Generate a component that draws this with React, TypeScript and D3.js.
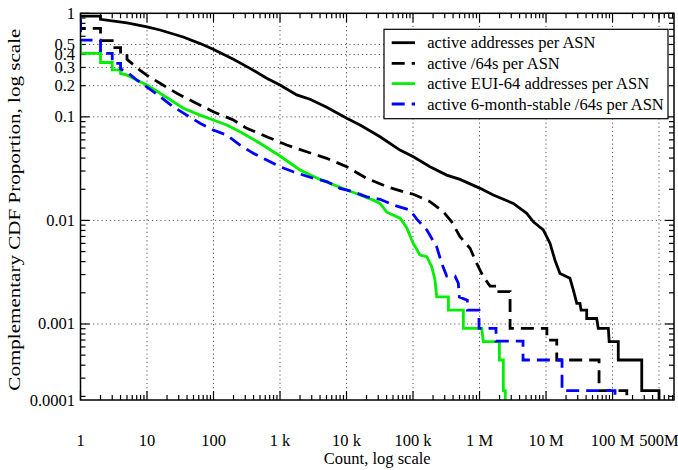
import React from "react";
import * as d3 from "d3";

const W = 678;
const H = 470;

// Axis ticks
const xTickValues = [1, 10, 100, 1e3, 1e4, 1e5, 1e6, 1e7, 1e8, 5e8];
const xTickLabels = ["1", "10", "100", "1 k", "10 k", "100 k", "1 M", "10 M", "100 M", "500M"];
const xGridValues = [10, 100, 1e3, 1e4, 1e5, 1e6, 1e7, 1e8, 5e8];
const yTickValues = [1, 0.5, 0.4, 0.3, 0.2, 0.1, 0.01, 0.001];
const yTickLabels = ["1", "0.5", "0.4", "0.3", "0.2", "0.1", "0.01", "0.001"];
const yGridValues = [0.5, 0.4, 0.3, 0.2, 0.1, 0.01, 0.001];
const yFloorLabel = "0.0001";
const xDomain = [1, 8.4e8];
const yDomain = [1.845e-4, 1];

const xTitle = "Count, log scale";
const yTitle = "Complementary CDF Proportion, log scale";

const seriesNames = [
  "active addresses per ASN",
  "active /64s per ASN",
  "active EUI-64 addresses per ASN",
  "active 6-month-stable /64s per ASN",
];

// [count, complementary CDF proportion]
const activeAddresses: [number, number][] = [
  [1, 0.94], [2, 0.94], [2, 0.875], [5, 0.81], [10, 0.74], [15.7, 0.69], [35, 0.59],
  [63, 0.51], [99, 0.45], [199, 0.36], [354, 0.294], [631, 0.236], [1000, 0.203],
  [1783, 0.163], [2826, 0.148], [5040, 0.124], [10070, 0.0968], [15960, 0.0834],
  [25290, 0.0703], [31900, 0.0643], [63700, 0.0478], [101000, 0.0412], [180000, 0.033],
  [321000, 0.0274], [509000, 0.0249], [1.02e6, 0.0204], [1.61e6, 0.0176], [3.22e6, 0.0146],
  [5.13e6, 0.0117], [6.44e6, 0.0097], [9.1e6, 0.0081], [1.15e7, 0.006], [1.36e7, 0.00415],
  [1.62e7, 0.00308], [2.29e7, 0.00276], [2.57e7, 0.00213], [2.9e7, 0.00158],
  [3.24e7, 0.00158], [3.37e7, 0.00136], [4.09e7, 0.00136], [4.09e7, 0.00113],
  [5.78e7, 0.00113], [6.1e7, 0.000908], [8.65e7, 0.000908], [8.9e7, 0.000675],
  [1.22e8, 0.000675], [1.22e8, 0.000449], [2.75e8, 0.000449], [2.75e8, 0.000227],
  [5.0e8, 0.000227], [5.0e8, 0.0001],
];

const active64s: [number, number][] = [
  [1, 0.85], [1, 0.716], [2, 0.716], [2, 0.544], [3, 0.544], [3, 0.466], [4, 0.466],
  [4, 0.405], [5, 0.405], [5, 0.36], [7.8, 0.283], [9.9, 0.253], [15.7, 0.211],
  [28, 0.169], [49.7, 0.14], [99, 0.112], [199, 0.0933], [316, 0.0775], [631, 0.0643],
  [1260, 0.0535], [2518, 0.046], [5040, 0.0398], [10070, 0.033], [20100, 0.0255],
  [40300, 0.0212], [80400, 0.0185], [101000, 0.0179], [180000, 0.0152], [286000, 0.0121],
  [382000, 0.0097], [509000, 0.00696], [720000, 0.00538], [908000, 0.00385],
  [1.14e6, 0.00286], [1.44e6, 0.00232], [1.85e6, 0.00232], [1.85e6, 0.00205],
  [2.88e6, 0.00205], [2.88e6, 0.000908], [1.03e7, 0.000908], [1.03e7, 0.0007],
  [1.45e7, 0.0007], [1.45e7, 0.000449], [6.27e7, 0.000449], [6.27e7, 0.000227],
  [1.64e8, 0.000227], [1.64e8, 0.0001],
];

const eui64: [number, number][] = [
  [1, 0.53], [1, 0.41], [2, 0.41], [2, 0.335], [3, 0.335], [3, 0.284], [4, 0.284],
  [4, 0.262], [4.95, 0.254], [7.0, 0.227], [9.9, 0.203], [15.7, 0.169], [24.9, 0.14],
  [35.2, 0.121], [62.7, 0.104], [99, 0.0933], [158, 0.0834], [250, 0.0719], [500, 0.0556],
  [1000, 0.0419], [2000, 0.0307], [4000, 0.0249], [7980, 0.0209], [15960, 0.0176],
  [25290, 0.0157], [31900, 0.0146], [40300, 0.012], [63800, 0.0105], [80400, 0.0085],
  [95500, 0.0065], [101000, 0.006], [127000, 0.00463], [161000, 0.00446],
  [191000, 0.00357], [214000, 0.00266], [227000, 0.00183], [340000, 0.00183],
  [340000, 0.00136], [571000, 0.00136], [571000, 0.000908], [1.08e6, 0.000908],
  [1.14e6, 0.000675], [1.99e6, 0.000675], [1.99e6, 0.000449], [2.28e6, 0.000449],
  [2.28e6, 0.000227], [2.44e6, 0.000227], [2.44e6, 0.0001],
];

const stable64s: [number, number][] = [
  [1, 0.88], [1, 0.552], [2, 0.552], [2, 0.411], [3, 0.411], [3, 0.329], [4, 0.329],
  [4, 0.29], [4.95, 0.273], [7.0, 0.227], [9.9, 0.195], [15.7, 0.157], [24.9, 0.125],
  [39.5, 0.104], [62.7, 0.0867], [99, 0.0746], [158, 0.0668], [250, 0.0535], [396, 0.0445],
  [631, 0.0383], [1000, 0.033], [1585, 0.0295], [3170, 0.0255], [5040, 0.0237],
  [7980, 0.0204], [12650, 0.0189], [20100, 0.0169], [31900, 0.016], [50600, 0.0141],
  [90100, 0.0126], [114000, 0.0103], [161000, 0.0081], [227000, 0.00557],
  [270000, 0.00385], [321000, 0.0029], [428000, 0.0029], [480000, 0.00248],
  [497000, 0.00182], [656000, 0.0017], [656000, 0.00136], [982000, 0.00136],
  [982000, 0.000908], [1.77e6, 0.000908], [1.77e6, 0.000684], [4.51e6, 0.000684],
  [4.51e6, 0.000449], [1.74e7, 0.000449], [1.74e7, 0.000227], [1.09e8, 0.000227],
  [1.09e8, 0.0001],
];

const seriesData = [activeAddresses, active64s, eui64, stable64s];
const seriesColors = ["#000000", "#000000", "#00ee00", "#0000ff"];
const seriesDash = [null, "13,7", null, "13,7"];

const FONT = "'Liberation Serif', 'Times New Roman', serif";

export default function App() {
  const left = 80.5, right = 674, top = 13.3, bottom = 400;
  const x = d3.scaleLog().domain(xDomain).range([left, right]);
  const y = d3.scaleLog().domain(yDomain).range([bottom, top]);
  const line = d3
    .line<[number, number]>()
    .x((d) => x(d[0]))
    .y((d) => y(d[1]));

  const xMinor: number[] = [];
  for (let e = 0; e <= 8; e++)
    for (let m = 2; m <= 9; m++) {
      const v = m * Math.pow(10, e);
      if (v < xDomain[1]) xMinor.push(v);
    }
  const yMinor: number[] = [];
  for (let e = -4; e <= -1; e++)
    for (let m = 2; m <= 9; m++) {
      const v = m * Math.pow(10, e);
      if (v > yDomain[0] && v < 1) yMinor.push(v);
    }
  const yMajor = [1, 0.1, 0.01, 0.001];

  const legX = 384, legY = 29.3, legW = 284, legH = 89.4;
  const rowY = [42.7, 63.3, 83.6, 104];

  return (
    <svg
      width={W}
      height={H}
      style={{ position: "absolute", left: 0, top: 0, background: "#fff" }}
      fontFamily={FONT}
    >
      <defs>
        <clipPath id="plotclip">
          <rect x={left} y={top} width={right - left} height={bottom - top} />
        </clipPath>
      </defs>
      <rect x={0} y={0} width={W} height={H} fill="#fff" />
      {/* grid */}
      <g stroke="#555" strokeWidth={1} strokeDasharray="1.2,3">
        {xGridValues.map((v) => (
          <line key={"gx" + v} x1={x(v)} x2={x(v)} y1={top} y2={bottom} />
        ))}
        {yGridValues.map((v) => (
          <line key={"gy" + v} x1={left} x2={right} y1={y(v)} y2={y(v)} />
        ))}
      </g>
      {/* ticks */}
      <g stroke="#000" strokeWidth={1.2}>
        {xMinor.map((v) => (
          <g key={"xm" + v}>
            <line x1={x(v)} x2={x(v)} y1={bottom} y2={bottom - 5} />
            <line x1={x(v)} x2={x(v)} y1={top} y2={top + 5} />
          </g>
        ))}
        {xTickValues.map((v) => (
          <g key={"xM" + v}>
            <line x1={x(v)} x2={x(v)} y1={bottom} y2={bottom - 9} />
            <line x1={x(v)} x2={x(v)} y1={top} y2={top + 9} />
          </g>
        ))}
        {yMinor.map((v) => (
          <g key={"ym" + v}>
            <line x1={left} x2={left + 5} y1={y(v)} y2={y(v)} />
            <line x1={right} x2={right - 5} y1={y(v)} y2={y(v)} />
          </g>
        ))}
        {yMajor.map((v) => (
          <g key={"yM" + v}>
            <line x1={left} x2={left + 9} y1={y(v)} y2={y(v)} />
            <line x1={right} x2={right - 9} y1={y(v)} y2={y(v)} />
          </g>
        ))}
      </g>
      {/* series */}
      <g clipPath="url(#plotclip)" fill="none">
        {seriesData.map((d, i) => (
          <path
            key={"s" + i}
            d={line(d) || ""}
            stroke={seriesColors[i]}
            strokeWidth={2.8}
            strokeDasharray={seriesDash[i] || undefined}
            strokeLinejoin="miter"
          />
        ))}
      </g>
      {/* frame */}
      <rect
        x={left}
        y={top}
        width={right - left}
        height={bottom - top}
        fill="none"
        stroke="#000"
        strokeWidth={1.5}
      />
      {/* tick labels */}
      <g fontSize={16.5} fill="#000">
        {xTickValues.map((v, i) => (
          <text key={"xl" + v} x={x(v)} y={446} textAnchor="middle">
            {xTickLabels[i]}
          </text>
        ))}
        {yTickValues.map((v, i) => (
          <text key={"yl" + v} x={75} y={y(v) + 5.5} textAnchor="end">
            {yTickLabels[i]}
          </text>
        ))}
        <text x={75} y={bottom + 5.5} textAnchor="end">
          {yFloorLabel}
        </text>
        <text x={(left + right) / 2} y={464} textAnchor="middle">
          {xTitle}
        </text>
        <text
          transform={`translate(20, ${(top + bottom) / 2 + 3}) rotate(-90)`}
          textAnchor="middle"
          textLength={362}
          lengthAdjust="spacingAndGlyphs"
        >
          {yTitle}
        </text>
      </g>
      {/* legend */}
      <g>
        <rect x={legX} y={legY} width={legW} height={legH} fill="#fff" stroke="#000" strokeWidth={1.2} />
        {seriesNames.map((name, i) => (
          <g key={"lg" + i}>
            <line
              x1={391.7}
              x2={415}
              y1={rowY[i]}
              y2={rowY[i]}
              stroke={seriesColors[i]}
              strokeWidth={2.8}
              strokeDasharray={seriesDash[i] || undefined}
            />
            <text x={427.3} y={rowY[i] + 5.5} fontSize={16.5} fill="#000">
              {name}
            </text>
          </g>
        ))}
      </g>
    </svg>
  );
}
